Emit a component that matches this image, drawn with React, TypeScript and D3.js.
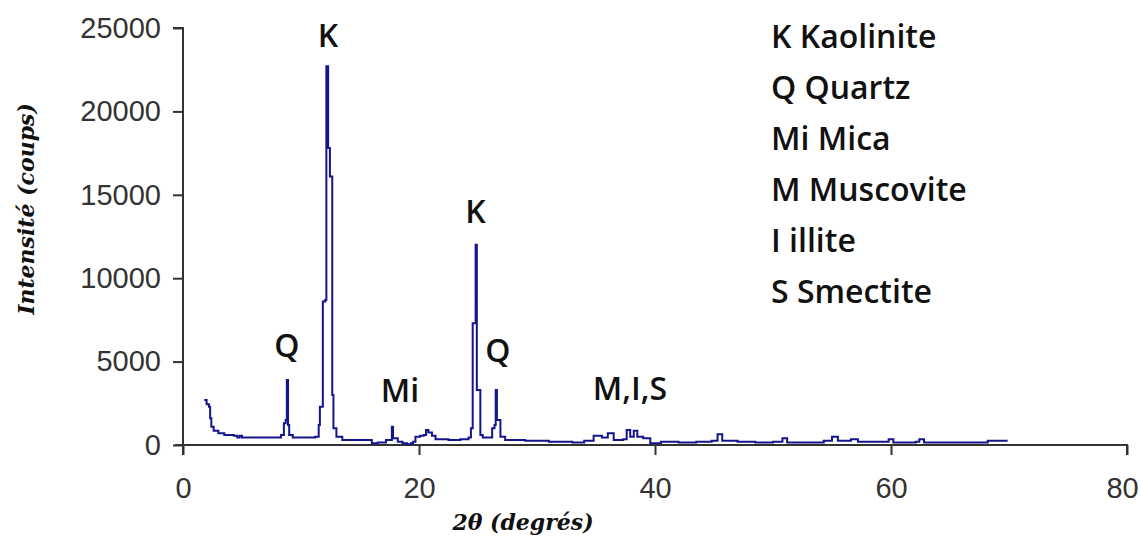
import React, { useEffect, useRef } from 'react';
import * as d3 from 'd3';

// 2θ (degrees) and intensity (counts)
const twoTheta = [
  1.8, 2.0, 2.2, 2.3, 2.4, 2.6, 3.0, 3.5, 4.3, 4.6, 4.8, 5.0, 6.5, 8.0, 8.3, 8.55, 8.7, 8.8, 8.9, 9.0,
  9.3, 10.5, 11.2, 11.5, 11.6, 11.85, 12.05, 12.15, 12.25, 12.3, 12.45, 12.6, 12.65, 12.75, 13.0, 13.5,
  15.5, 16.0, 16.5, 17.2, 17.6, 17.7, 17.8, 18.2, 18.6, 19.0, 19.3, 19.5, 19.7, 20.1, 20.4, 20.6, 20.8,
  21.1, 21.4, 22.5, 23.5, 24.2, 24.4, 24.55, 24.7, 24.8, 24.9, 25.1, 25.2, 25.4, 26.0, 26.2, 26.4, 26.5,
  26.6, 26.75, 26.9, 27.3, 29, 31, 33, 34.0, 34.8, 35.5, 36.0, 36.5, 37.3, 37.6, 37.9, 38.2, 38.5, 39.0,
  39.6, 40.5, 42, 43.5, 44.8, 45.3, 45.7, 47, 48.5, 50, 50.8, 51.2, 53, 54.3, 55.0, 55.5, 56.6, 57.2,
  59.4, 59.8, 60.2, 62.1, 62.4, 62.8, 65, 67.8, 68.2, 69.8,
];
const counts = [
  2700, 2450, 2300, 1600, 1100, 850, 700, 600, 550, 450, 550, 450, 450, 450, 600, 1300, 1500, 3900, 1200, 600,
  450, 450, 500, 1200, 2300, 8600, 8700, 22700, 22700, 17800, 16100, 16100, 3000, 1000, 500, 300,
  300, 100, 150, 300, 300, 1100, 400, 200, 100, 50, 100, 200, 500, 550, 600, 900, 750,
  550, 350, 300, 350, 450, 1000, 7300, 7300, 12000, 3300, 3300, 600, 450, 450, 1000, 1200, 3300,
  1500, 1500, 500, 300, 250, 200, 150, 250, 550, 450, 700, 300, 350, 900, 500, 850, 500, 400,
  100, 200, 150, 200, 250, 650, 250, 200, 150, 200, 400, 150, 150, 250, 500, 250, 350, 200,
  200, 350, 150, 200, 350, 150, 150, 150, 250, 200,
];

// peak annotations (position in data units of the label baseline)
const peakLabels = ['K', 'Q', 'K', 'Mi', 'Q', 'M,I,S'];
const peakX = [12.29, 8.81, 24.79, 18.39, 26.69, 37.88];
const peakY = [23860, 5276, 13310, 2578, 4976, 2700];

const legendItems = ['K Kaolinite', 'Q Quartz', 'Mi Mica', 'M Muscovite', 'I illite', 'S Smectite'];

const xTicks = [0, 20, 40, 60, 80];
const yTicks = [0, 5000, 10000, 15000, 20000, 25000];

const W = 1141;
const H = 537;

export default function App() {
  const ref = useRef<SVGSVGElement>(null);

  useEffect(() => {
    const svg = d3.select(ref.current);
    svg.selectAll('*').remove();

    const x = d3.scaleLinear().domain([0, 80]).range([183, 1127]);
    const y = d3.scaleLinear().domain([0, 25000]).range([445, 28]);

    const axisColor = '#333';
    const tickFont = 'Liberation Sans, Arial, sans-serif';

    // y axis
    const yAxis = svg.append('g').attr('transform', `translate(${x(0)},0)`)
      .call(d3.axisLeft(y).tickValues(yTicks).tickSize(10).tickPadding(12).tickFormat(d3.format('d')));
    yAxis.select('.domain').attr('stroke', axisColor).attr('stroke-width', 2)
      .attr('d', `M-10,${y(25000)}H0V${y(0) + 10}`);
    yAxis.selectAll('.tick line').attr('stroke', axisColor).attr('stroke-width', 2);
    yAxis.selectAll('.tick text')
      .attr('fill', '#333')
      .style('font-family', tickFont)
      .style('font-size', '29px');

    // x axis
    const xAxis = svg.append('g').attr('transform', `translate(0,${y(0)})`)
      .call(d3.axisBottom(x).tickValues(xTicks).tickSize(10).tickPadding(22).tickFormat(d3.format('d')));
    xAxis.select('.domain').attr('stroke', axisColor).attr('stroke-width', 2)
      .attr('d', `M${x(0) - 8},0H${x(80)}V10`);
    xAxis.selectAll('.tick line').attr('stroke', axisColor).attr('stroke-width', 2);
    xAxis.selectAll('.tick text')
      .attr('fill', '#333')
      .style('font-family', tickFont)
      .style('font-size', '29px')
      .attr('dx', (d) => (d === 80 ? -5 : 0));

    // pattern line
    const pts: [number, number][] = twoTheta.map((t, i) => [t, counts[i]]);
    const line = d3.line<[number, number]>()
      .curve(d3.curveStepAfter)
      .x((d) => x(d[0]))
      .y((d) => y(d[1]));
    svg.append('path')
      .datum(pts)
      .attr('d', line)
      .attr('fill', 'none')
      .attr('stroke', '#14148c')
      .attr('stroke-width', 2);

    // peak labels
    const labelFont = 'Open Sans, DejaVu Sans, sans-serif';
    svg.selectAll('text.peak')
      .data(peakLabels)
      .enter()
      .append('text')
      .attr('class', 'peak')
      .attr('x', (_, i) => x(peakX[i]))
      .attr('y', (_, i) => y(peakY[i]))
      .attr('text-anchor', 'middle')
      .style('font-family', labelFont)
      .style('font-weight', 600)
      .style('font-size', '32px')
      .attr('fill', '#111')
      .text((d) => d);

    // legend
    svg.selectAll('text.legend')
      .data(legendItems)
      .enter()
      .append('text')
      .attr('class', 'legend')
      .attr('x', 771)
      .attr('y', (_, i) => 48 + i * 51)
      .style('font-family', labelFont)
      .style('font-weight', 600)
      .style('font-size', '32px')
      .attr('fill', '#111')
      .text((d) => d);

    // axis titles
    svg.append('text')
      .attr('x', 523)
      .attr('y', 530)
      .attr('text-anchor', 'middle')
      .style('font-family', 'DejaVu Serif, serif')
      .style('font-style', 'italic')
      .style('font-weight', 'bold')
      .style('font-size', '22px')
      .attr('fill', '#111')
      .text('2θ (degrés)');

    svg.append('text')
      .attr('transform', 'translate(34,209) rotate(-90)')
      .attr('text-anchor', 'middle')
      .style('font-family', 'DejaVu Serif, serif')
      .style('font-style', 'italic')
      .style('font-weight', 'bold')
      .style('font-size', '22px')
      .attr('fill', '#111')
      .text('Intensité (coups)');
  }, []);

  return (
    <svg
      ref={ref}
      width={W}
      height={H}
      style={{ position: 'absolute', left: 0, top: 0, background: '#fff', display: 'block' }}
    />
  );
}
